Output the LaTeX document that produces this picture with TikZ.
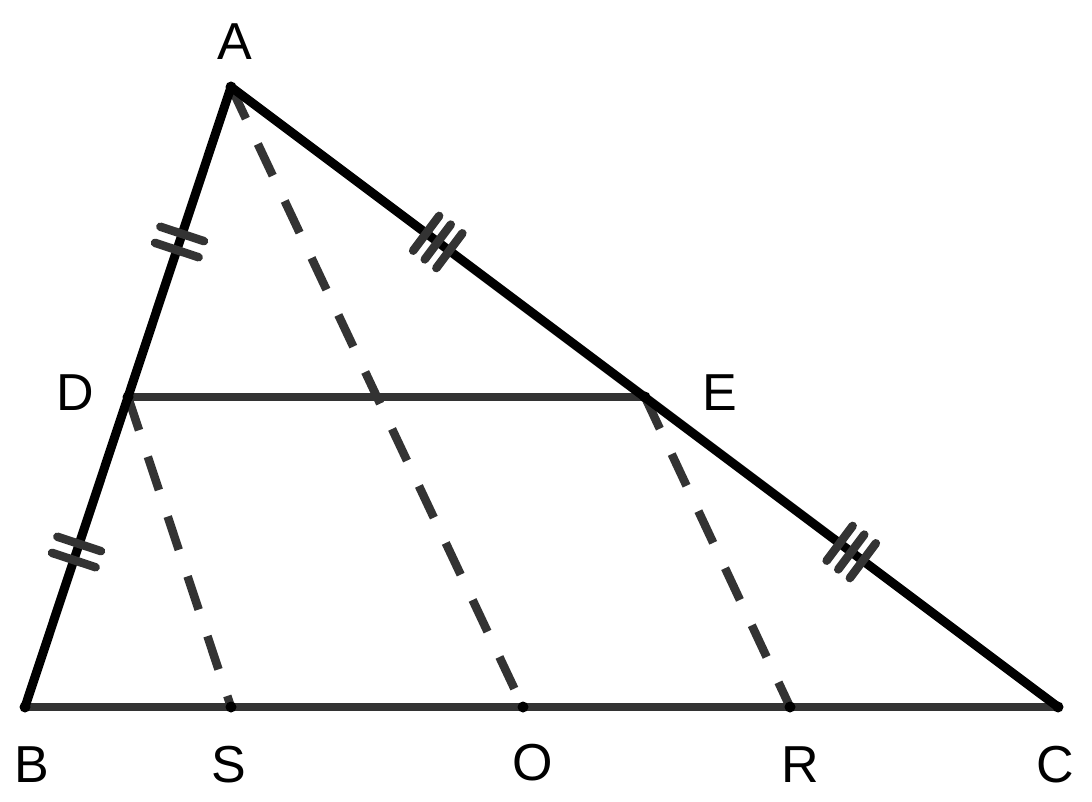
\documentclass[tikz,border=0pt]{standalone}
\usepackage{fontspec}
\setmainfont{Liberation Sans}
\usetikzlibrary{calc}
\definecolor{dk}{HTML}{333333}
\begin{document}
\begin{tikzpicture}[x=1pt,y=-1pt,
  side/.style={line width=9pt,black,line cap=round,line join=round},
  base/.style={line width=8.5pt,dk},
  mid/.style={line width=8pt,dk},
  dsh/.style={line width=8.5pt,dk,dash pattern=on 35pt off 28pt},
  tick/.style={line width=8.5pt,dk,line cap=round},
  pt/.style={circle,fill=black,inner sep=0pt,minimum size=11pt},
  lab/.style={font=\fontsize{52}{60}\selectfont,inner sep=0pt}]
\useasboundingbox (0,0) rectangle (1092,802);
\coordinate (A) at (231,87);
\coordinate (B) at (25,707);
\coordinate (C) at (1058,707);
\coordinate (D) at (128,397);
\coordinate (E) at (645,397);
\coordinate (S) at (231,707);
\coordinate (O) at (523,707);
\coordinate (R) at (790,707);
% base lines
\draw[base] (B) -- (C);
\draw[mid] (D) -- (E);
% dashed
\draw[dsh] (A) -- (O);
\draw[dsh] (D) -- (S);
\draw[dsh] (E) -- (R);
% sides
\draw[side] (B) -- (A) -- (C);
% double ticks on AB
\foreach \m in {0.25,0.75}{
  \foreach \o in {-8.5,8.5}{
    \draw[tick] ($($(A)!\m!(B)$)!\o pt!(B)$) ++(-21.8,-7.2) -- ++(43.6,14.4);
  }
}
% triple ticks on AC
\foreach \m in {0.25,0.75}{
  \foreach \o in {-14.5,0,14.5}{
    \draw[tick] ($($(A)!\m!(C)$)!\o pt!(C)$) ++(13.0,-17.4) -- ++(-26.0,34.8);
  }
}
% points
\foreach \p in {A,B,C,D,E,S,O,R} \node[pt] (p\p) at (\p) {};
% labels
\node[lab] (lA) at (235,42) {A};
\node[lab] (lB) at (32,765) {B};
\node[lab] (lS) at (229,765) {S};
\node[lab] (lO) at (533,763) {O};
\node[lab] (lR) at (800,765) {R};
\node[lab] (lC) at (1055,765) {C};
\node[lab] (lD) at (75,393) {D};
\node[lab] (lE) at (720,393) {E};
\end{tikzpicture}
\end{document}
